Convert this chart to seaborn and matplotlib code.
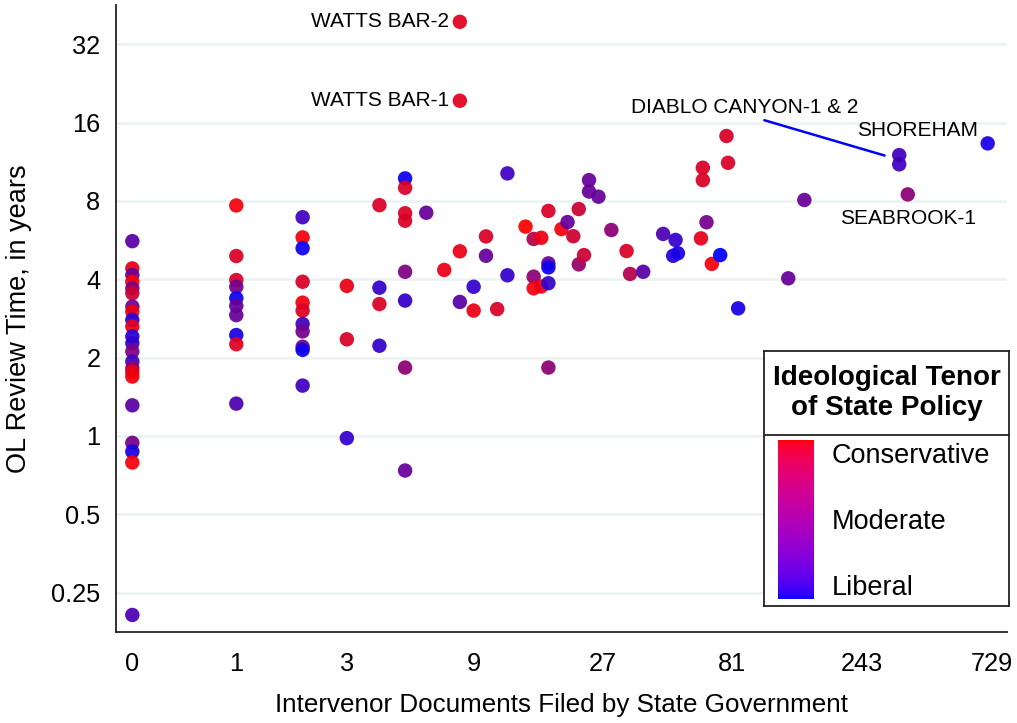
import numpy as np
import pandas as pd
import matplotlib
matplotlib.use("Agg")
import matplotlib.pyplot as plt
import seaborn as sns
from matplotlib.colors import LinearSegmentedColormap
from matplotlib.cm import ScalarMappable
from matplotlib.ticker import NullLocator

# ---------------- data ----------------
docs = [0]*22 + [1]*10 + [2]*11 + [3]*3 + [4]*4 + [5]*8 + [6, 7, 8, 8, 8, 8, 9, 9, 10, 10, 11, 12, 12, 14,
        15, 15, 15, 16, 16, 17, 17, 17, 17, 17, 19, 20, 21, 22, 22, 23, 24, 24, 26, 29, 33, 34, 38,
        45, 49, 50, 51, 62, 63, 63, 65, 68, 73, 77, 78, 85, 130, 149, 333, 333, 358, 705]
years = [5.6, 4.40, 4.15, 3.91, 3.69, 3.53, 3.14, 3.0, 2.79, 2.63, 2.41, 2.27, 2.11, 1.93, 1.82, 1.76,
         1.69, 1.31, 0.94, 0.87, 0.79, 0.205,
         7.68, 4.91, 3.97, 3.74, 3.38, 3.16, 2.91, 2.44, 2.25, 1.33,
         6.92, 5.79, 5.26, 3.91, 3.25, 3.03, 2.69, 2.52, 2.20, 2.14, 1.56,
         3.77, 2.35, 0.98,
         7.7, 3.71, 3.21, 2.22,
         9.76, 8.98, 7.17, 6.71, 4.27, 3.31, 1.83, 0.736,
         7.2, 4.34, 39.0, 19.4, 5.12, 3.27, 3.74, 3.03, 5.84, 4.92, 3.07, 10.2, 4.14, 6.37,
         5.71, 4.09, 3.69, 5.77, 3.75, 7.32, 4.60, 4.44, 3.86, 1.83, 6.23, 6.63, 5.85, 7.44, 4.56,
         4.95, 9.61, 8.69, 8.30, 6.18, 5.13, 4.19, 4.27,
         5.97, 4.92, 5.66, 5.03, 5.74, 9.61, 10.72, 6.62, 4.58, 4.95, 14.2, 11.2, 3.09, 4.03, 8.06,
         11.99, 11.05, 8.47, 13.3]
# 0 = conservative (red) ... 1 = liberal (blue)
tenor = [0.65, 0.10, 0.60, 0.05, 0.50, 0.20, 0.55, 0.08, 0.85, 0.10, 0.85, 0.80, 0.50, 0.75, 0.40, 0.10,
         0.05, 0.65, 0.55, 0.90, 0.05, 0.70,
         0.05, 0.15, 0.15, 0.55, 0.95, 0.60, 0.60, 0.90, 0.12, 0.70,
         0.75, 0.05, 0.95, 0.15, 0.05, 0.15, 0.75, 0.55, 0.55, 0.95, 0.75,
         0.08, 0.15, 0.80,
         0.15, 0.80, 0.15, 0.80,
         0.95, 0.15, 0.15, 0.15, 0.50, 0.80, 0.45, 0.60,
         0.60, 0.08, 0.12, 0.12, 0.08, 0.65, 0.80, 0.08, 0.15, 0.60, 0.15, 0.75, 0.80, 0.00,
         0.30, 0.45, 0.05, 0.08, 0.08, 0.15, 0.60, 0.95, 0.80, 0.45, 0.05, 0.60, 0.20, 0.20, 0.40,
         0.20, 0.60, 0.60, 0.60, 0.45, 0.15, 0.30, 0.65,
         0.70, 0.85, 0.80, 0.90, 0.10, 0.15, 0.15, 0.55, 0.05, 1.00, 0.15, 0.15, 0.90, 0.60, 0.60,
         0.75, 0.75, 0.45, 0.90]

x_ticks = [0, 1, 3, 9, 27, 81, 243, 729]
x_ticklabels = ["0", "1", "3", "9", "27", "81", "243", "729"]
y_ticks = [0.25, 0.5, 1, 2, 4, 8, 16, 32]
y_ticklabels = ["0.25", "0.5", "1", "2", "4", "8", "16", "32"]

x_title = "Intervenor Documents Filed by State Government"
y_title = "OL Review Time, in years"
legend_title = "Ideological Tenor\nof State Policy"
legend_labels = ["Conservative", "Moderate", "Liberal"]

labels_left = [("WATTS BAR-2", 8, 39.0), ("WATTS BAR-1", 8, 19.4)]
label_shoreham = ("SHOREHAM", 705, 13.3)
label_seabrook = ("SEABROOK-1", 358, 8.47)
label_diablo = ("DIABLO CANYON-1 & 2", 333, 11.5)

df = pd.DataFrame({"docs": docs, "years": years, "tenor": tenor})

# ---------------- style ----------------
sns.set_style("white")
plt.rcParams["font.family"] = ["Liberation Sans", "DejaVu Sans"]
plt.rcParams["text.color"] = "black"
plt.rcParams["axes.labelcolor"] = "black"
plt.rcParams["xtick.color"] = "black"
plt.rcParams["ytick.color"] = "black"

W, H = 1017, 723
fig = plt.figure(figsize=(W / 100, H / 100), dpi=100)
L, R, T, B = 115.7, 1007, 5, 631.7
ax = fig.add_axes([L / W, 1 - B / H, (R - L) / W, (B - T) / H])

pt_cmap = LinearSegmentedColormap.from_list("pts", [(1, 0, 0), (0, 0, 1)])

ax.set_xscale("function", functions=(np.arcsinh, np.sinh))
ax.set_yscale("log", base=2)

sns.scatterplot(data=df, x="docs", y="years", hue="tenor", palette=pt_cmap, hue_norm=(0, 1),
                s=108, linewidth=0, alpha=0.93, legend=False, ax=ax, zorder=3)

ax.set_xlim(np.sinh(-0.141), np.sinh(7.415))
ax.set_ylim(2 ** -2.5, 2 ** 5.5)
ax.set_xticks(x_ticks)
ax.set_xticklabels(x_ticklabels)
ax.set_yticks(y_ticks)
ax.set_yticklabels(y_ticklabels)
ax.xaxis.set_minor_locator(NullLocator())
ax.yaxis.set_minor_locator(NullLocator())

for yv in y_ticks:
    ax.axhline(yv, color="#eaf2f3", lw=1.8, zorder=1)

for s in ["top", "right"]:
    ax.spines[s].set_visible(False)
for s in ["left", "bottom"]:
    ax.spines[s].set_color("#222222")
    ax.spines[s].set_linewidth(1.3)

ax.tick_params(axis="both", direction="out", length=7.5, width=1.0, color="#222222",
               labelsize=18.3, labelcolor="black")
ax.tick_params(axis="y", pad=3.5)
ax.tick_params(axis="x", pad=7)
ax.set_xlabel(x_title, fontsize=18.7, labelpad=12, color="black")
ax.set_ylabel(y_title, fontsize=19.5, labelpad=14, color="black")

# annotations
for txt, xv, yv in labels_left:
    ax.annotate(txt, xy=(xv, yv), xytext=(-8, 0), textcoords="offset points",
                ha="right", va="center", fontsize=15, color="black")
ax.annotate(label_shoreham[0], xy=label_shoreham[1:], xytext=(-7, 9), textcoords="offset points",
            ha="right", va="center", fontsize=15, color="black")
ax.annotate(label_seabrook[0], xy=label_seabrook[1:], xytext=(0, -17), textcoords="offset points",
            ha="center", va="center", fontsize=15, color="black")
ax.annotate(label_diablo[0], xy=label_diablo[1:], xytext=(-111, 38), textcoords="offset points",
            ha="center", va="center", fontsize=15, color="black",
            arrowprops=dict(arrowstyle="-", color="blue", lw=1.8, shrinkA=1, shrinkB=11,
                            relpos=(0.53, 0.0)))

# ---------------- legend box ----------------
bx0, bx1, by0, by1 = 764.3, 1009, 350.7, 605.7
lax = fig.add_axes([bx0 / W, 1 - by1 / H, (bx1 - bx0) / W, (by1 - by0) / H])
lax.set_xlim(bx0, bx1)
lax.set_ylim(by1, by0)
lax.set_xticks([])
lax.set_yticks([])
lax.set_facecolor("white")
for s in lax.spines.values():
    s.set_color("#222222")
    s.set_linewidth(1.3)
lax.plot([bx0, bx1], [435.3, 435.3], color="#222222", lw=1.3)
lax.text((bx0 + bx1) / 2, 393, legend_title, ha="center", va="center", fontsize=20,
         fontweight="bold", linespacing=1.22, color="black")
for lab, yy in zip(legend_labels, [456, 522, 588]):
    lax.text(832, yy, lab, ha="left", va="center", fontsize=19.5, color="black")

cx0, cx1, cy0, cy1 = 778, 814.3, 440, 599.3
cax = fig.add_axes([cx0 / W, 1 - cy1 / H, (cx1 - cx0) / W, (cy1 - cy0) / H])
vv = np.linspace(0, 1, 64)
bar_cmap = LinearSegmentedColormap.from_list(
    "bar", [(np.sqrt(v), 0, np.sqrt(1 - v)) for v in vv])
cb = fig.colorbar(ScalarMappable(cmap=bar_cmap, norm=plt.Normalize(0, 1)), cax=cax)
cb.outline.set_visible(False)
cb.set_ticks([])

fig.savefig("out.png", dpi=100)
